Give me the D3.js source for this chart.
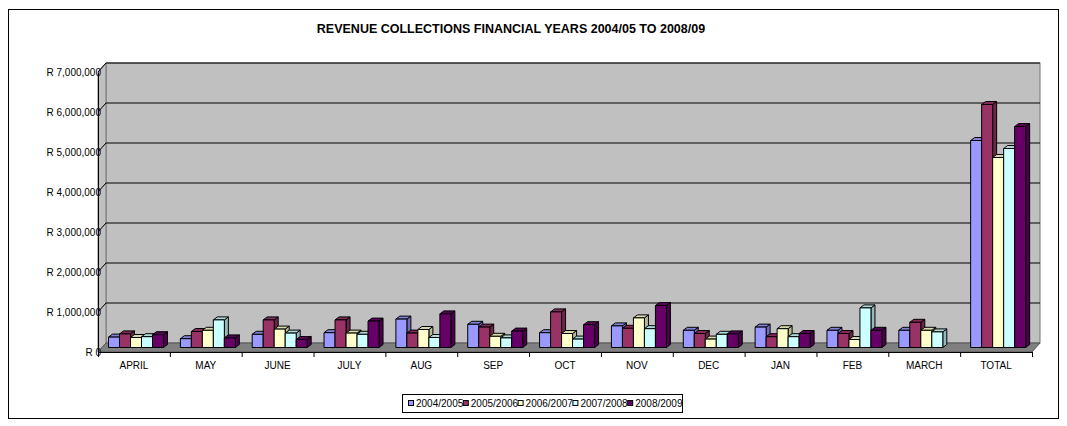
<!DOCTYPE html>
<html>
<head>
<meta charset="utf-8">
<script src="https://cdn.jsdelivr.net/npm/d3@7"></script>
<style>
  body { margin: 0; background: #fff; }
  svg { display: block; font-family: "Liberation Sans", Arial, sans-serif; }
</style>
</head>
<body>
<svg id="chart" width="1067" height="426"></svg>
<script>
// categories along the x axis
const months = ['APRIL', 'MAY', 'JUNE', 'JULY', 'AUG', 'SEP', 'OCT', 'NOV', 'DEC', 'JAN', 'FEB', 'MARCH', 'TOTAL']
// series names (financial years)
const years = ['2004/2005', '2005/2006', '2006/2007', '2007/2008', '2008/2009']
// revenue per month for every year (rand), last item is the total
const fy2004 = [260000, 220000, 330000, 370000, 710000, 580000, 370000, 540000, 430000, 510000, 430000, 430000, 5175000]
const fy2005 = [340000, 400000, 690000, 690000, 360000, 510000, 890000, 480000, 350000, 270000, 350000, 630000, 6075000]
const fy2006 = [250000, 430000, 460000, 360000, 450000, 280000, 350000, 740000, 210000, 470000, 200000, 430000, 4750000]
const fy2007 = [270000, 690000, 360000, 330000, 250000, 240000, 210000, 470000, 330000, 270000, 990000, 390000, 4975000]
const fy2008 = [320000, 240000, 200000, 660000, 840000, 410000, 570000, 1050000, 340000, 350000, 430000, null, 5525000]
// y axis tick values
const yTicks = [0, 1000000, 2000000, 3000000, 4000000, 5000000, 6000000, 7000000]

const seriesValues = [fy2004, fy2005, fy2006, fy2007, fy2008]
const colors = ['#9999ff', '#993366', '#ffffcc', '#ccffff', '#660066']

function makeChart() {
  const svg = d3.select('#chart')

  // outer frame
  svg.append('rect')
    .attr('x', 8.5).attr('y', 9.5)
    .attr('width', 1050).attr('height', 409)
    .attr('fill', '#fff').attr('stroke', '#000')

  // title
  svg.append('text')
    .attr('x', 511).attr('y', 33)
    .attr('text-anchor', 'middle')
    .attr('font-size', '12.5px').attr('font-weight', 'bold')
    .text('REVENUE COLLECTIONS FINANCIAL YEARS 2004/05 TO 2008/09')

  // front plane scales
  const x = d3.scaleBand().domain(months).range([98, 1032])
  const y = d3.scaleLinear().domain([0, 7000000]).range([352, 72])
  // depth of the 3d box
  const DX = 8, DY = -9

  const left = x.range()[0], right = x.range()[1]
  const y0 = y(0), yTop = y(yTicks[yTicks.length - 1])

  // back wall
  svg.append('rect')
    .attr('x', left + DX).attr('y', yTop + DY)
    .attr('width', right - left).attr('height', y0 - yTop)
    .attr('fill', '#c0c0c0').attr('stroke', '#777')
  // left wall
  svg.append('polygon')
    .attr('points', [[left, yTop], [left + DX, yTop + DY], [left + DX, y0 + DY], [left, y0]].join(' '))
    .attr('fill', '#c0c0c0').attr('stroke', '#777')
  // floor
  svg.append('polygon')
    .attr('points', [[left, y0], [left + DX, y0 + DY], [right + DX, y0 + DY], [right, y0]].join(' '))
    .attr('fill', '#808080').attr('stroke', '#555')

  // gridlines on walls
  const grid = svg.append('g')
  yTicks.slice(1).forEach(v => {
    grid.append('line')
      .attr('x1', left + DX).attr('x2', right + DX)
      .attr('y1', y(v) + DY).attr('y2', y(v) + DY)
      .attr('stroke', '#000')
    grid.append('line')
      .attr('x1', left).attr('x2', left + DX)
      .attr('y1', y(v)).attr('y2', y(v) + DY)
      .attr('stroke', '#000')
  })

  // bars
  const BX = 4, BY = -4.5     // bars sit in the middle of the depth
  const SX = 4, SY = -3       // bar depth
  const inner = d3.scaleBand().domain(years).range([0, 55])
  const bw = inner.bandwidth()
  const bars = svg.append('g')
  months.forEach((m, mi) => {
    years.forEach((yr, si) => {
      const v = seriesValues[si][mi]
      if (v == null) return
      const bx = x(m) + 6.5 + BX + inner(yr)
      const top = y(v) + BY
      const bottom = y0 + BY
      const c = d3.color(colors[si])
      const g = bars.append('g').attr('stroke', '#000').attr('stroke-width', 1).attr('stroke-linejoin', 'round')
      // side face
      g.append('polygon')
        .attr('points', [[bx + bw, top], [bx + bw + SX, top + SY], [bx + bw + SX, bottom + SY], [bx + bw, bottom]].join(' '))
        .attr('fill', c.darker(0.9))
      // top face
      g.append('polygon')
        .attr('points', [[bx, top], [bx + SX, top + SY], [bx + bw + SX, top + SY], [bx + bw, top]].join(' '))
        .attr('fill', c.darker(0.45))
      // front face
      g.append('rect')
        .attr('x', bx).attr('y', top)
        .attr('width', bw).attr('height', bottom - top)
        .attr('fill', c)
    })
  })

  // y axis
  const axisY = d3.axisLeft(y)
    .tickValues(yTicks)
    .tickSize(0)
    .tickPadding(-3)
    .tickFormat(d => 'R ' + d3.format(',')(d))
  svg.append('g')
    .attr('transform', `translate(${left},0)`)
    .call(axisY)
    .call(g => g.select('.domain').attr('stroke', '#000'))
    .call(g => g.selectAll('text').attr('font-size', '10px').attr('font-family', 'Liberation Sans, Arial').attr('fill', '#000'))

  // x axis: labels in the middle of every band
  const axisX = d3.axisBottom(x).tickSize(0).tickPadding(10)
  svg.append('g')
    .attr('transform', `translate(0,${y0})`)
    .call(axisX)
    .call(g => g.select('.domain').attr('stroke', '#000'))
    .call(g => g.selectAll('text').attr('font-size', '10px').attr('font-family', 'Liberation Sans, Arial').attr('fill', '#000'))

  // tick marks at band boundaries
  const xb = d3.scaleLinear().domain([0, months.length]).range(x.range())
  svg.append('g')
    .attr('transform', `translate(0,${y0})`)
    .call(d3.axisBottom(xb).ticks(months.length).tickSize(5).tickFormat(''))
    .call(g => g.select('.domain').remove())

  // legend
  const lg = svg.append('g').attr('transform', 'translate(402,394)')
  lg.append('rect')
    .attr('x', 0.5).attr('y', 0.5)
    .attr('width', 280).attr('height', 18)
    .attr('fill', '#fff').attr('stroke', '#000')
  years.forEach((yr, i) => {
    const item = lg.append('g').attr('transform', `translate(${6 + i * 54.8},0)`)
    item.append('rect')
      .attr('x', 0.5).attr('y', 6.5)
      .attr('width', 5).attr('height', 5)
      .attr('fill', colors[i]).attr('stroke', '#000')
    item.append('text')
      .attr('x', 8).attr('y', 13)
      .attr('font-size', '10px')
      .text(yr)
  })
}

window.onload = makeChart
</script>
</body>
</html>
